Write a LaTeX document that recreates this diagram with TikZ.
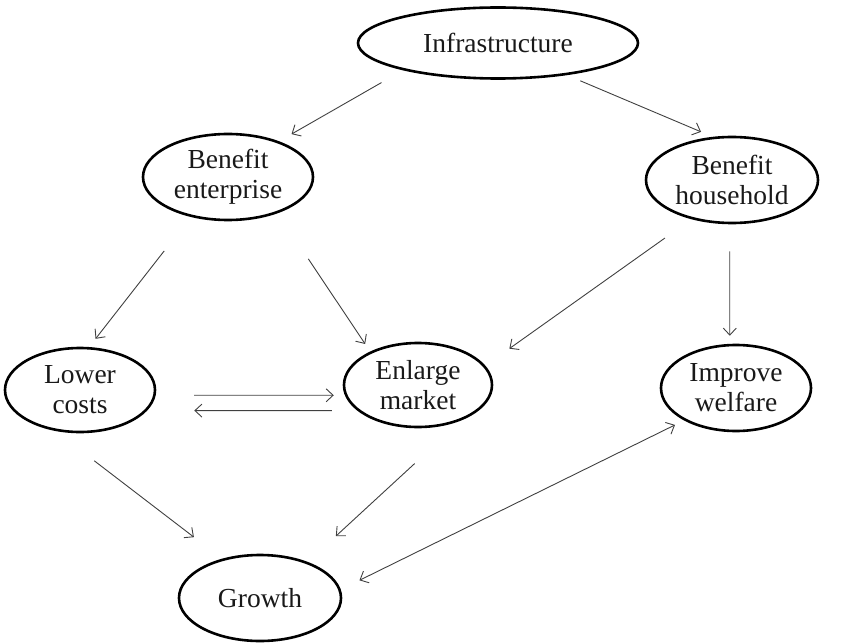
\documentclass[tikz,border=0pt]{standalone}
\usepackage{fontspec}
\setmainfont{Liberation Serif}
\usetikzlibrary{shapes.geometric,arrows.meta}
\begin{document}
\begin{tikzpicture}[x=1bp,y=-1bp,
  >={Straight Barb[length=7bp,width=13bp]},
  ell/.style={ellipse, draw=black, line width=2.6bp, inner sep=0pt, align=center,
    font=\fontsize{27.5bp}{30bp}\selectfont, text=black!90},
  arr/.style={draw=black!75, line width=0.9bp, ->},
  arrb/.style={draw=black!75, line width=0.9bp, <->}]
\useasboundingbox (0,0) rectangle (841,644);
\node[ell,minimum width=280bp,minimum height=71bp] (infra) at (498,43) {Infrastructure};
\node[ell,minimum width=170bp,minimum height=86bp] (be) at (228,177) {Benefit\\enterprise};
\node[ell,minimum width=172bp,minimum height=86bp] (bh) at (732,180) {Benefit\\household};
\node[ell,minimum width=150bp,minimum height=84bp] (lc) at (80,390) {Lower\\costs};
\node[ell,minimum width=148bp,minimum height=84bp] (em) at (418,385) {Enlarge\\market};
\node[ell,minimum width=150bp,minimum height=86bp] (iw) at (736,388) {Improve\\welfare};
\node[ell,minimum width=162bp,minimum height=86bp] (gr) at (260,598) {Growth};
\draw[arr, shorten <=24.8bp, shorten >=14.4bp] (infra.196) -- (be.35);
\draw[arr, shorten <=14.6bp, shorten >=12.7bp] (infra.335) -- (bh.114);
\draw[arr, shorten <=43.1bp, shorten >=10.4bp] (be.227) -- (lc.78);
\draw[arr, shorten <=55bp, shorten >=9.1bp] (be.324) -- (em.145);
\draw[arr, shorten <=32.5bp, shorten >=29.4bp] (bh.224) -- (em.16);
\draw[arr, shorten <=27bp, shorten >=8.1bp] (bh.267) -- (iw.98);
\draw[arr, shorten <=38.5bp, shorten >=11.1bp] (lc.356) -- (em.188);
\draw[arr, shorten <=25.5bp, shorten >=47.1bp] (em.203) -- (lc.343);
\draw[arr, shorten <=49bp, shorten >=35.4bp] (lc.239) -- (gr.134);
\draw[arr, shorten <=63.8bp, shorten >=38.1bp] (em.321) -- (gr.37);
\draw[arrb, shorten <=20.8bp, shorten >=10.1bp] (gr.6) -- (iw.212);
\end{tikzpicture}
\end{document}
